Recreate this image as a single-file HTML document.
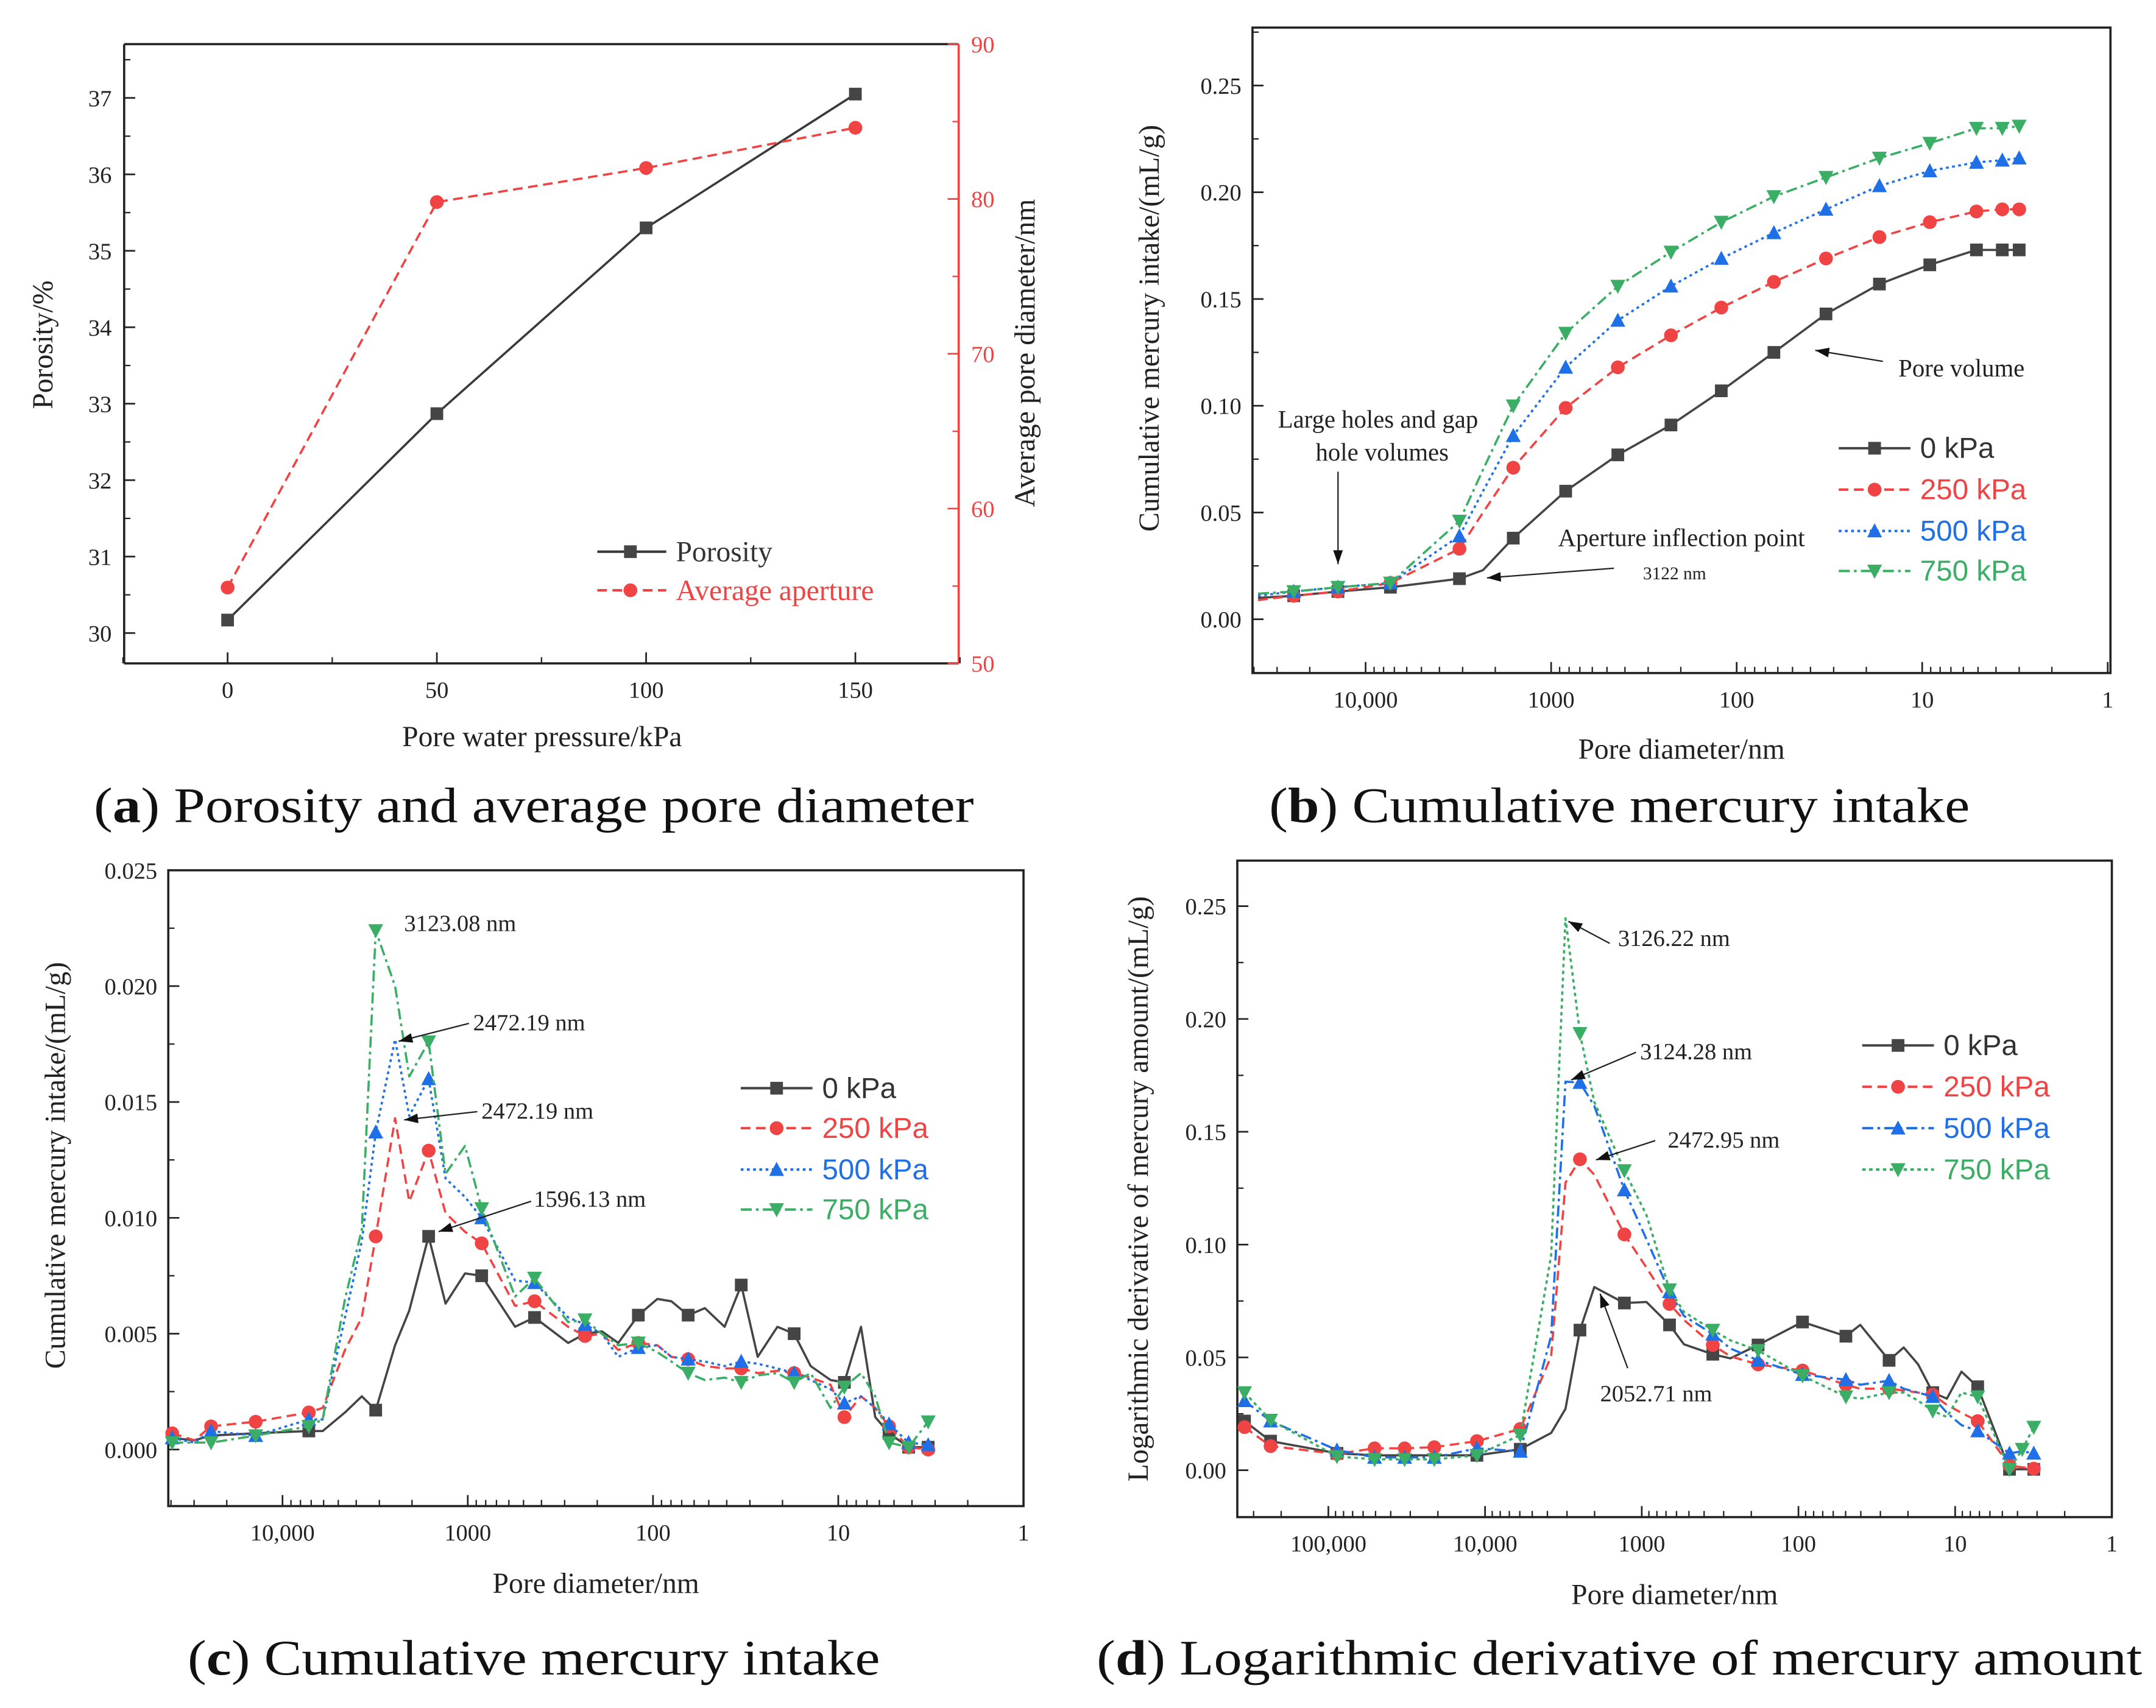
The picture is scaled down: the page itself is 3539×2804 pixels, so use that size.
<!DOCTYPE html>
<html><head><meta charset="utf-8"><style>
html,body{margin:0;padding:0;background:#fff}
svg{display:block}
</style></head><body>
<svg id="fig" xmlns="http://www.w3.org/2000/svg" width="3539" height="2804" viewBox="0 0 1563 1238.4">
<rect x="0" y="0" width="1563" height="1238.4" fill="#fff"/>
</svg>
<script>
// ---------- Panel (a) data ----------
const aPressure = [0, 50, 100, 150];
const aPorosity = [30.17, 32.87, 35.3, 37.05];
const aAperture = [54.9, 79.8, 82.0, 84.6];
const aLeftTicks = [30, 31, 32, 33, 34, 35, 36, 37];
const aRightTicks = [50, 60, 70, 80, 90];
const aXTicks = [0, 50, 100, 150];

// ---------- Panel (b) data ----------
const bDiam = [38000, 24400, 14100, 7350, 3120, 2330, 1600, 835, 437, 226, 121, 63, 33, 17, 9.1, 5.1, 3.7, 3.0];
const b0 = [0.010, 0.011, 0.013, 0.015, 0.019, 0.023, 0.038, 0.060, 0.077, 0.091, 0.107, 0.125, 0.143, 0.157, 0.166, 0.173, 0.173, 0.173];
const b250 = [0.009, 0.011, 0.013, 0.017, 0.033, 0.050, 0.071, 0.099, 0.118, 0.133, 0.146, 0.158, 0.169, 0.179, 0.186, 0.191, 0.192, 0.192];
const b500 = [0.011, 0.013, 0.015, 0.017, 0.039, 0.060, 0.086, 0.118, 0.140, 0.156, 0.169, 0.181, 0.192, 0.203, 0.210, 0.214, 0.215, 0.216];
const b750 = [0.012, 0.013, 0.015, 0.017, 0.046, 0.070, 0.100, 0.134, 0.156, 0.172, 0.186, 0.198, 0.207, 0.216, 0.223, 0.230, 0.230, 0.231];
const bYTicks = [0, 0.05, 0.10, 0.15, 0.20, 0.25];
const bYLabels = ["0.00", "0.05", "0.10", "0.15", "0.20", "0.25"];
const bXTicks = [10000, 1000, 100, 10, 1];
const bXLabels = ["10,000", "1000", "100", "10", "1"];

// ---------- Panel (c) data ----------
const cDiam = [39400, 29900, 24300, 13960, 7210, 6070, 4600, 3730, 3140, 2470, 2070, 1626, 1318, 1035, 841, 555, 436, 287, 233, 189, 154, 120, 94.6, 79.6, 64.6, 52.5, 41.1, 33.4, 27.2, 21.3, 17.3, 14.1, 11.0, 9.27, 7.53, 6.32, 5.32, 4.17, 3.27];
const c0 = [0.0005, 0.0004, 0.0006, 0.0007, 0.0008, 0.0008, 0.0016, 0.0023, 0.0017, 0.0045, 0.0060, 0.0092, 0.0063, 0.0076, 0.0075, 0.0053, 0.0057, 0.0046, 0.0050, 0.0051, 0.0046, 0.0058, 0.0065, 0.0064, 0.0058, 0.0061, 0.0053, 0.0071, 0.0040, 0.0053, 0.0050, 0.0036, 0.0030, 0.0029, 0.0053, 0.0014, 0.0007, 0.0001, 0.0001];
const c250 = [0.0007, 0.0004, 0.0010, 0.0012, 0.0016, 0.0018, 0.0043, 0.0057, 0.0092, 0.0143, 0.0107, 0.0129, 0.0102, 0.0094, 0.0089, 0.0062, 0.0064, 0.0053, 0.0049, 0.0050, 0.0043, 0.0046, 0.0045, 0.0040, 0.0039, 0.0036, 0.0035, 0.0035, 0.0033, 0.0034, 0.0033, 0.0031, 0.0028, 0.0014, 0.0023, 0.0018, 0.0010, 0.0001, 0.0000];
const c500 = [0.0005, 0.0003, 0.0008, 0.0006, 0.0013, 0.0013, 0.0057, 0.0090, 0.0137, 0.0177, 0.0144, 0.0160, 0.0117, 0.0109, 0.0100, 0.0073, 0.0072, 0.0057, 0.0054, 0.0050, 0.0040, 0.0044, 0.0045, 0.0040, 0.0039, 0.0038, 0.0036, 0.0038, 0.0037, 0.0035, 0.0033, 0.0030, 0.0026, 0.0020, 0.0023, 0.0018, 0.0011, 0.0003, 0.0002];
const c750 = [0.0003, 0.0003, 0.0003, 0.0006, 0.0010, 0.0013, 0.0065, 0.0095, 0.0224, 0.0200, 0.0161, 0.0176, 0.0119, 0.0131, 0.0104, 0.0066, 0.0074, 0.0055, 0.0056, 0.0050, 0.0045, 0.0046, 0.0042, 0.0038, 0.0033, 0.0030, 0.0031, 0.0029, 0.0032, 0.0033, 0.0029, 0.0033, 0.0018, 0.0027, 0.0033, 0.0023, 0.0003, 0.0001, 0.0012];
const cYTicks = [0, 0.005, 0.010, 0.015, 0.020, 0.025];
const cYLabels = ["0.000", "0.005", "0.010", "0.015", "0.020", "0.025"];
const cXTicks = [10000, 1000, 100, 10, 1];
const cXLabels = ["10,000", "1000", "100", "10", "1"];

// ---------- Panel (d) data ----------
const dDiam = [342800, 233700, 88100, 50700, 32600, 21100, 11270, 5960, 3790, 3070, 2480, 2010, 1291, 934, 665, 538, 352, 272, 181, 94.2, 49.8, 40.3, 26.4, 21.3, 17.2, 13.9, 11.3, 9.11, 7.18, 4.50, 3.73, 3.15];
const d0 = [0.0218, 0.0129, 0.0075, 0.0066, 0.0066, 0.0066, 0.0066, 0.0093, 0.0165, 0.0272, 0.0621, 0.0812, 0.0741, 0.0746, 0.0644, 0.0558, 0.0514, 0.0496, 0.0555, 0.0657, 0.0594, 0.0644, 0.0487, 0.0544, 0.0469, 0.0344, 0.0317, 0.0437, 0.0370, 0.0004, 0.0004, 0.0004];
const d250 = [0.0191, 0.0107, 0.0072, 0.0097, 0.0097, 0.0102, 0.0129, 0.0183, 0.0505, 0.1274, 0.1378, 0.1310, 0.1045, 0.0898, 0.0737, 0.0666, 0.0555, 0.0505, 0.0469, 0.0442, 0.0379, 0.0361, 0.0361, 0.0353, 0.0344, 0.0335, 0.0290, 0.0254, 0.0218, 0.0021, 0.0013, 0.0007];
const d500 = [0.0308, 0.0218, 0.0089, 0.0057, 0.0057, 0.0057, 0.0097, 0.0084, 0.0594, 0.1722, 0.1718, 0.1614, 0.1242, 0.1024, 0.0791, 0.0684, 0.0603, 0.0540, 0.0487, 0.0424, 0.0401, 0.0379, 0.0397, 0.0361, 0.0344, 0.0326, 0.0254, 0.0200, 0.0174, 0.0075, 0.0084, 0.0075];
const d750 = [0.0344, 0.0222, 0.0061, 0.0048, 0.0048, 0.0048, 0.0066, 0.0156, 0.0952, 0.2446, 0.1936, 0.1632, 0.1328, 0.1131, 0.0800, 0.0702, 0.0621, 0.0576, 0.0531, 0.0419, 0.0326, 0.0317, 0.0344, 0.0344, 0.0308, 0.0263, 0.0236, 0.0344, 0.0326, 0.0004, 0.0093, 0.0191];
const dYTicks = [0, 0.05, 0.10, 0.15, 0.20, 0.25];
const dYLabels = ["0.00", "0.05", "0.10", "0.15", "0.20", "0.25"];
const dXTicks = [100000, 10000, 1000, 100, 10, 1];
const dXLabels = ["100,000", "10,000", "1000", "100", "10", "1"];

const seriesNames = ["0 kPa", "250 kPa", "500 kPa", "750 kPa"];

// ---------- helpers ----------
const NS = "http://www.w3.org/2000/svg";
const SERIF = '"Liberation Serif", serif';
const SANS = '"Liberation Sans", sans-serif';
const root = document.getElementById("fig");
const COL = {k: "#454545", r: "#f04444", b: "#1f6fe6", g: "#3aae64"};
function mk(tag, attrs, parent, name, inter) {
  const e = document.createElementNS(NS, tag);
  for (const k in attrs) e.setAttribute(k, attrs[k]);
  
  
  (parent || root).appendChild(e);
  return e;
}
function txt(x, y, s, size, parent, name, opts) {
  opts = opts || {};
  const a = {x: x, y: y, "font-size": size, "font-family": opts.ff || SERIF, fill: opts.fill || "#222", "text-anchor": opts.anchor || "middle"};
  if (opts.rot) a.transform = "rotate(-90 " + x + " " + y + ")";
  const t = mk("text", a, parent, name);
  t.textContent = s;
  return t;
}
function marker(type, x, y, color, parent, name) {
  const s = 4.6;
  if (type === "sq") return mk("rect", {x: x - s, y: y - s, width: 2 * s, height: 2 * s, fill: color}, parent, name);
  if (type === "ci") return mk("circle", {cx: x, cy: y, r: s + 0.4, fill: color}, parent, name);
  if (type === "up") return mk("polygon", {points: `${x},${y - s - 1} ${x - s - 0.8},${y + s} ${x + s + 0.8},${y + s}`, fill: color}, parent, name);
  return mk("polygon", {points: `${x},${y + s + 1} ${x - s - 0.8},${y - s} ${x + s + 0.8},${y - s}`, fill: color}, parent, name);
}
function arrow(x1, y1, x2, y2, parent, name) {
  const g = mk("g", {}, parent, name);
  mk("line", {x1: x1, y1: y1, x2: x2, y2: y2, stroke: "#222", "stroke-width": 1}, g, name + "-shaft");
  const ang = Math.atan2(y2 - y1, x2 - x1), L = 10, W = 3.5;
  const bx = x2 - L * Math.cos(ang), by = y2 - L * Math.sin(ang);
  const px = -Math.sin(ang) * W, py = Math.cos(ang) * W;
  mk("polygon", {points: `${x2},${y2} ${bx + px},${by + py} ${bx - px},${by - py}`, fill: "#111"}, g, name + "-head");
}
const DASH = {solid: "", dash: "7,4", dot: "2,2.5", dashdot: "8,3,2,3", dotg: "2.5,2.5"};

function logPanel(P) {
  const g = mk("g", {}, root, P.id);
  const xOf = d => P.x1 - Math.log10(d) * P.dec;
  const yOf = v => P.y0 - (v / P.vStep) * P.pxStep;
  mk("rect", {x: P.L, y: P.T, width: P.R - P.L, height: P.B - P.T, fill: "none", stroke: "#222", "stroke-width": 1.6}, g, "plot-frame");
  P.xt.forEach((d, i) => {
    const x = xOf(d);
    if (x >= P.L - 1 && x <= P.R + 1) {
      mk("line", {x1: x, y1: P.B, x2: x, y2: P.B - 8, stroke: "#222", "stroke-width": 1.2}, g, "x-tick");
      txt(x, P.B + 25, P.xl[i], 17, g, "x-tick-label");
    }
    for (let m = 2; m <= 9; m++) {
      const xm = xOf(d * m);
      if (xm > P.L && xm < P.R) mk("line", {x1: xm, y1: P.B, x2: xm, y2: P.B - 4.5, stroke: "#222", "stroke-width": 1}, g, "x-minor-tick");
    }
  });
  P.yt.forEach((v, i) => {
    const y = yOf(v);
    mk("line", {x1: P.L, y1: y, x2: P.L + 8, y2: y, stroke: "#222", "stroke-width": 1.2}, g, "y-tick");
    txt(P.L - 8, y + 6, P.yl[i], 17, g, "y-tick-label", {anchor: "end"});
    const ym = yOf(v + (P.yt[1] - P.yt[0]) / 2);
    if (ym > P.T) mk("line", {x1: P.L, y1: ym, x2: P.L + 4.5, y2: ym, stroke: "#222", "stroke-width": 1}, g, "y-minor-tick");
  });
  txt((P.L + P.R) / 2, P.xtY, "Pore diameter/nm", 21, g, "x-axis-title");
  txt(P.ytX, P.ytY, P.ytitle, 21, g, "y-axis-title", {rot: true});
  const sty = [["k", P.st[0], "sq"], ["r", P.st[1], "ci"], ["b", P.st[2], "up"], ["g", P.st[3], "dn"]];
  P.series.forEach((vals, si) => {
    const sg = mk("g", {}, g, "series-" + seriesNames[si].replace(" ", "-").toLowerCase());
    const pts = vals.map((v, i) => xOf(P.diam[i]).toFixed(1) + "," + yOf(v).toFixed(1)).join(" ");
    const a = {points: pts, fill: "none", stroke: COL[sty[si][0]], "stroke-width": 1.6, "stroke-linejoin": "round"};
    if (DASH[sty[si][1]]) a["stroke-dasharray"] = DASH[sty[si][1]];
    mk("polyline", a, sg, "series-line");
    P.mk[si].forEach(i => marker(sty[si][2], xOf(P.diam[i]), yOf(vals[i]), COL[sty[si][0]], sg, "data-point"));
  });
  const lg = mk("g", {}, g, "legend");
  P.leg.ys.forEach((y, si) => {
    const e = mk("g", {}, lg, "legend-entry");
    const a = {x1: P.leg.x, y1: y, x2: P.leg.x + 52, y2: y, stroke: COL[sty[si][0]], "stroke-width": 1.8};
    if (DASH[sty[si][1]]) a["stroke-dasharray"] = DASH[sty[si][1]];
    mk("line", a, e, "legend-line");
    marker(sty[si][2], P.leg.x + 26, y, COL[sty[si][0]], e, "legend-marker");
    txt(P.leg.x + 59, y + 7, seriesNames[si], 21, e, "legend-label", {anchor: "start", ff: SANS, fill: si ? COL[sty[si][0]] : "#333"});
  });
  return g;
}

// ---------- Panel (a) ----------
(function () {
  const g = mk("g", {}, root, "panel-a");
  const L = 90, R = 695, T = 32, B = 481;
  const xOf = p => 165 + p / 50 * 151.7;
  const yL = v => 459 - (v - 30) * 55.43;
  const yR = v => 481 - (v - 50) * 11.225;
  mk("line", {x1: L, y1: T, x2: R, y2: T, stroke: "#222", "stroke-width": 1.6}, g, "top-border");
  mk("line", {x1: L, y1: T, x2: L, y2: B, stroke: "#222", "stroke-width": 1.6}, g, "left-axis");
  mk("line", {x1: L, y1: B, x2: R, y2: B, stroke: "#222", "stroke-width": 1.6}, g, "x-axis");
  mk("line", {x1: R, y1: T, x2: R, y2: B, stroke: "#f04444", "stroke-width": 1.6}, g, "right-axis");
  aXTicks.forEach(p => {
    const x = xOf(p);
    mk("line", {x1: x, y1: B, x2: x, y2: B - 8, stroke: "#222", "stroke-width": 1.2}, g, "x-tick");
    mk("line", {x1: x + 75.85, y1: B, x2: x + 75.85, y2: B - 4.5, stroke: "#222", "stroke-width": 1}, g, "x-minor-tick");
    txt(x, B + 25, String(p), 17, g, "x-tick-label");
  });
  mk("line", {x1: xOf(-25), y1: B, x2: xOf(-25), y2: B - 4.5, stroke: "#222", "stroke-width": 1}, g, "x-minor-tick");
  aLeftTicks.forEach(v => {
    const y = yL(v);
    mk("line", {x1: L, y1: y, x2: L + 8, y2: y, stroke: "#222", "stroke-width": 1.2}, g, "y-tick");
    mk("line", {x1: L, y1: y - 27.7, x2: L + 4.5, y2: y - 27.7, stroke: "#222", "stroke-width": 1}, g, "y-minor-tick");
    txt(L - 9, y + 6, String(v), 17, g, "y-tick-label", {anchor: "end"});
  });
  aRightTicks.forEach(v => {
    const y = yR(v);
    mk("line", {x1: R, y1: y, x2: R - 8, y2: y, stroke: "#f04444", "stroke-width": 1.2}, g, "right-tick");
    if (v < 90) mk("line", {x1: R, y1: y - 56.1, x2: R - 4.5, y2: y - 56.1, stroke: "#f04444", "stroke-width": 1}, g, "right-minor-tick");
    txt(R + 9, y + 6, String(v), 17, g, "right-tick-label", {anchor: "start", fill: "#f04444"});
  });
  txt(393, 541, "Pore water pressure/kPa", 21, g, "x-axis-title");
  txt(38, 250, "Porosity/%", 21, g, "y-axis-title", {rot: true});
  txt(750, 256, "Average pore diameter/nm", 21, g, "right-axis-title", {rot: true});
  const s1 = mk("g", {}, g, "series-porosity");
  mk("polyline", {points: aPorosity.map((v, i) => xOf(aPressure[i]) + "," + yL(v)).join(" "), fill: "none", stroke: "#3a3a3a", "stroke-width": 1.6}, s1, "porosity-line");
  aPorosity.forEach((v, i) => marker("sq", xOf(aPressure[i]), yL(v), "#454545", s1, "porosity-point"));
  const s2 = mk("g", {}, g, "series-average-aperture");
  mk("polyline", {points: aAperture.map((v, i) => xOf(aPressure[i]) + "," + yR(v)).join(" "), fill: "none", stroke: "#f04444", "stroke-width": 1.6, "stroke-dasharray": "7,4"}, s2, "aperture-line");
  aAperture.forEach((v, i) => marker("ci", xOf(aPressure[i]), yR(v), "#f04444", s2, "aperture-point"));
  const lg = mk("g", {}, g, "legend");
  const e1 = mk("g", {}, lg, "legend-entry");
  mk("line", {x1: 433, y1: 400, x2: 483, y2: 400, stroke: "#3a3a3a", "stroke-width": 1.8}, e1, "legend-line");
  marker("sq", 457, 400, "#454545", e1, "legend-marker");
  txt(490, 407, "Porosity", 21, e1, "legend-label", {anchor: "start", fill: "#333"});
  const e2 = mk("g", {}, lg, "legend-entry");
  mk("line", {x1: 433, y1: 428, x2: 483, y2: 428, stroke: "#f04444", "stroke-width": 1.8, "stroke-dasharray": "7,4"}, e2, "legend-line");
  marker("ci", 457, 428, "#f04444", e2, "legend-marker");
  txt(490, 435, "Average aperture", 21, e2, "legend-label", {anchor: "start", fill: "#f04444"});
})();

// ---------- Panel (b) ----------
const pb = logPanel({id: "panel-b", L: 908, R: 1530, T: 20, B: 488, x1: 1528, dec: 134.5, y0: 449, vStep: 0.05, pxStep: 77.4,
  xt: bXTicks, xl: bXLabels, yt: bYTicks, yl: bYLabels, xtY: 550, ytX: 840, ytY: 238, ytitle: "Cumulative mercury intake/(mL/g)",
  diam: bDiam, series: [b0, b250, b500, b750], st: ["solid", "dash", "dot", "dashdot"],
  mk: [[1,2,3,4,6,7,8,9,10,11,12,13,14,15,16,17],[1,2,3,4,6,7,8,9,10,11,12,13,14,15,16,17],[1,2,3,4,6,7,8,9,10,11,12,13,14,15,16,17],[1,2,3,4,6,7,8,9,10,11,12,13,14,15,16,17]],
  leg: {x: 1333, ys: [325, 355, 385, 414]}});
txt(999, 310, "Large holes and gap", 18, pb, "annotation-large-holes");
txt(1002, 334, "hole volumes", 18, pb, "annotation-hole-volumes");
arrow(970, 342, 970, 409, pb, "arrow-large-holes");
txt(1219, 396, "Aperture inflection point", 18, pb, "annotation-inflection");
txt(1214, 420, "3122 nm", 13, pb, "annotation-3122nm");
arrow(1170, 412, 1078, 419, pb, "arrow-inflection");
txt(1422, 273, "Pore volume", 18, pb, "annotation-pore-volume");
arrow(1365, 262, 1316, 254, pb, "arrow-pore-volume");

// ---------- Panel (c) ----------
const pc = logPanel({id: "panel-c", L: 122, R: 742, T: 631, B: 1092, x1: 742, dec: 134.3, y0: 1051, vStep: 0.005, pxStep: 84,
  xt: cXTicks, xl: cXLabels, yt: cYTicks, yl: cYLabels, xtY: 1155, ytX: 47, ytY: 845, ytitle: "Cumulative mercury intake/(mL/g)",
  diam: cDiam, series: [c0, c250, c500, c750], st: ["solid", "dash", "dot", "dashdot"],
  mk: [[4,8,11,14,16,18,21,24,27,30,33,36,37,38],[0,2,3,4,8,11,14,16,18,21,24,27,30,33,36,37,38],[0,2,3,4,8,11,14,16,18,21,24,27,30,33,36,37,38],[0,2,3,4,8,11,14,16,18,21,24,27,30,33,36,37,38]],
  leg: {x: 537, ys: [789, 818, 848, 877]}});
txt(293, 675, "3123.08 nm", 17, pc, "annotation-3123nm", {anchor: "start"});
txt(343, 747, "2472.19 nm", 17, pc, "annotation-2472nm-a", {anchor: "start"});
arrow(340, 742, 289, 755, pc, "arrow-2472nm-a");
txt(349, 811, "2472.19 nm", 17, pc, "annotation-2472nm-b", {anchor: "start"});
arrow(346, 806, 293, 812, pc, "arrow-2472nm-b");
txt(387, 875, "1596.13 nm", 17, pc, "annotation-1596nm", {anchor: "start"});
arrow(385, 871, 318, 893, pc, "arrow-1596nm");

// ---------- Panel (d) ----------
const pd = logPanel({id: "panel-d", L: 897, R: 1531, T: 624, B: 1100, x1: 1531, dec: 113.6, y0: 1066, vStep: 0.05, pxStep: 81.8,
  xt: dXTicks, xl: dXLabels, yt: dYTicks, yl: dYLabels, xtY: 1163, ytX: 832, ytY: 862, ytitle: "Logarithmic derivative of mercury amount/(mL/g)",
  diam: dDiam, series: [d0, d250, d500, d750], st: ["solid", "dash", "dashdot", "dotg"],
  mk: [[0,1,2,6,7,10,12,14,16,18,19,20,22,25,28,29,31],[0,1,2,3,4,5,6,7,10,12,14,16,18,19,20,22,25,28,29,31],[0,1,2,3,4,5,6,7,10,12,14,16,18,19,20,22,25,28,29,31],[0,1,2,3,4,5,6,7,10,12,14,16,18,19,20,22,25,28,29,30,31]],
  leg: {x: 1350, ys: [758, 788, 818, 848]}});
txt(1173, 686, "3126.22 nm", 17, pd, "annotation-3126nm", {anchor: "start"});
arrow(1167, 684, 1137, 668, pd, "arrow-3126nm");
txt(1189, 768, "3124.28 nm", 17, pd, "annotation-3124nm", {anchor: "start"});
arrow(1186, 763, 1139, 783, pd, "arrow-3124nm");
txt(1209, 832, "2472.95 nm", 17, pd, "annotation-2472nm", {anchor: "start"});
arrow(1200, 827, 1157, 841, pd, "arrow-2472nm");
txt(1160, 1016, "2052.71 nm", 17, pd, "annotation-2052nm", {anchor: "start"});
arrow(1180, 992, 1160, 938, pd, "arrow-2052nm");

// ---------- Captions ----------
function caption(x, y, letter, rest, name, w) {
  const t = mk("text", {x: x, y: y, "font-size": 36, "font-family": SERIF, fill: "#111", "text-anchor": "middle", textLength: w, lengthAdjust: "spacingAndGlyphs"}, root, name);
  const s1 = mk("tspan", {}, t, name + "-open");
  s1.textContent = "(";
  const s2 = mk("tspan", {"font-weight": "bold"}, t, name + "-letter");
  s2.textContent = letter;
  const s3 = mk("tspan", {}, t, name + "-text");
  s3.textContent = ") " + rest;
}
caption(387, 596, "a", "Porosity and average pore diameter", "caption-a", 638);
caption(1174, 596, "b", "Cumulative mercury intake", "caption-b", 508);
caption(387, 1214, "c", "Cumulative mercury intake", "caption-c", 502);
caption(1174, 1214, "d", "Logarithmic derivative of mercury amount", "caption-d", 758);
</script>
</body></html>
